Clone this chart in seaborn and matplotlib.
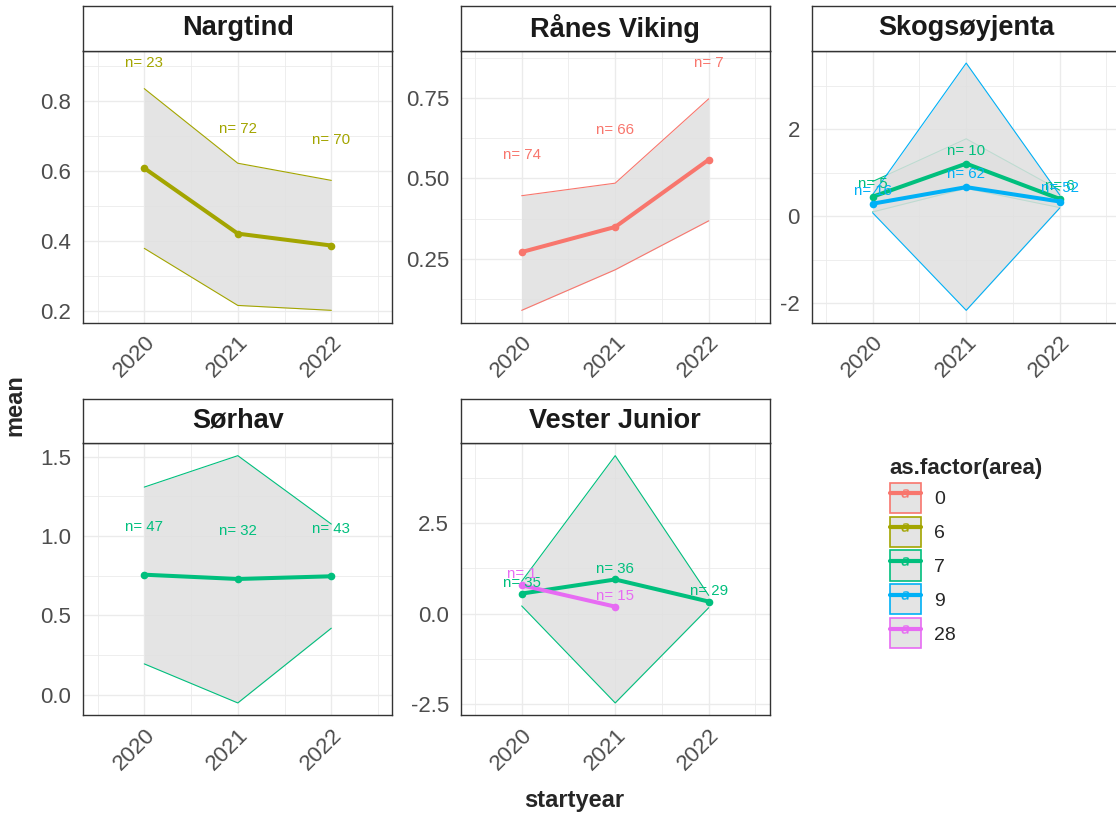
import numpy as np
import pandas as pd
import matplotlib
matplotlib.use("Agg")
import matplotlib.pyplot as plt
from matplotlib.ticker import MultipleLocator
from matplotlib.lines import Line2D
from matplotlib.patches import Patch
from matplotlib.legend_handler import HandlerTuple
import seaborn as sns

# ---------------------------------------------------------------- data
years = [2020, 2021, 2022]
panels = ["Nargtind", "Rånes Viking", "Skogsøyjenta", "Sørhav", "Vester Junior"]
areas = ["0", "6", "7", "9", "28"]
area_colors = ["#F8766D", "#A3A500", "#00BF7D", "#00B0F6", "#E76BF3"]

nargtind_6_mean = [0.609, 0.422, 0.388]
nargtind_6_lower = [0.380, 0.217, 0.203]
nargtind_6_upper = [0.836, 0.623, 0.574]
nargtind_6_n = [23, 72, 70]

ranes_0_mean = [0.271, 0.349, 0.558]
ranes_0_lower = [0.090, 0.216, 0.368]
ranes_0_upper = [0.446, 0.485, 0.747]
ranes_0_n = [74, 66, 7]

skog_7_mean = [0.45, 1.21, 0.40]
skog_7_lower = [0.10, 0.64, 0.20]
skog_7_upper = [0.80, 1.78, 0.60]
skog_7_n = [5, 10, 6]

skog_9_mean = [0.29, 0.67, 0.34]
skog_9_lower = [0.08, -2.16, 0.19]
skog_9_upper = [0.50, 3.52, 0.49]
skog_9_n = [16, 62, 52]

sorhav_7_mean = [0.756, 0.729, 0.746]
sorhav_7_lower = [0.194, -0.052, 0.419]
sorhav_7_upper = [1.308, 1.506, 1.075]
sorhav_7_n = [47, 32, 43]

vester_7_mean = [0.55, 0.94, 0.33]
vester_7_lower = [0.21, -2.47, 0.16]
vester_7_upper = [0.89, 4.36, 0.50]
vester_7_n = [35, 36, 29]

vester_28_years = [2020, 2021]
vester_28_mean = [0.78, 0.19]
vester_28_lower = [np.nan, np.nan]
vester_28_upper = [np.nan, np.nan]
vester_28_n = [1, 15]

y_ticks = {
    "Nargtind": [0.2, 0.4, 0.6, 0.8],
    "Rånes Viking": [0.25, 0.50, 0.75],
    "Skogsøyjenta": [-2, 0, 2],
    "Sørhav": [0.0, 0.5, 1.0, 1.5],
    "Vester Junior": [-2.5, 0.0, 2.5],
}
y_tick_labels = {
    "Nargtind": ["0.2", "0.4", "0.6", "0.8"],
    "Rånes Viking": ["0.25", "0.50", "0.75"],
    "Skogsøyjenta": ["-2", "0", "2"],
    "Sørhav": ["0.0", "0.5", "1.0", "1.5"],
    "Vester Junior": ["-2.5", "0.0", "2.5"],
}

series = [
    ("Nargtind", "6", years, nargtind_6_mean, nargtind_6_lower, nargtind_6_upper, nargtind_6_n),
    ("Rånes Viking", "0", years, ranes_0_mean, ranes_0_lower, ranes_0_upper, ranes_0_n),
    ("Skogsøyjenta", "7", years, skog_7_mean, skog_7_lower, skog_7_upper, skog_7_n),
    ("Skogsøyjenta", "9", years, skog_9_mean, skog_9_lower, skog_9_upper, skog_9_n),
    ("Sørhav", "7", years, sorhav_7_mean, sorhav_7_lower, sorhav_7_upper, sorhav_7_n),
    ("Vester Junior", "7", years, vester_7_mean, vester_7_lower, vester_7_upper, vester_7_n),
    ("Vester Junior", "28", vester_28_years, vester_28_mean, vester_28_lower, vester_28_upper, vester_28_n),
]

rows = []
for panel, area, yrs, mean, lower, upper, n in series:
    for i, yr in enumerate(yrs):
        rows.append(dict(panel=panel, area=area, startyear=yr, mean=mean[i],
                         lower=lower[i], upper=upper[i], n=n[i]))
df = pd.DataFrame(rows)

palette = dict(zip(areas, area_colors))
LABEL_OFFSET = 0.3

# ---------------------------------------------------------------- style
sns.set_style("white")
plt.rcParams["font.family"] = ["Liberation Sans", "DejaVu Sans"]

W, H = 1116, 821
fig = plt.figure(figsize=(W / 100, H / 100), dpi=100)


def frac(x0, y0, x1, y1):
    return [x0 / W, 1 - y1 / H, (x1 - x0) / W, (y1 - y0) / H]


PW, PH, SH = 309.0, 272.0, 44.7
slots = [(83.3, 50.7), (460.7, 50.7), (811.7, 50.7), (83.3, 443.3), (460.7, 443.3)]

BORDER = "#333333"
GRID = "#EBEBEB"
RIBBON = (0.878, 0.878, 0.878, 0.85)

for name, (x0, y0) in zip(panels, slots):
    ax = fig.add_axes(frac(x0, y0, x0 + PW, y0 + PH))
    sub = df[df.panel == name]

    # confidence ribbons with coloured outlines
    for area in areas:
        g = sub[sub.area == area].dropna(subset=["lower", "upper"])
        if len(g) < 2:
            continue
        c = palette[area]
        ax.fill_between(g.startyear, g.lower, g.upper, facecolor=RIBBON, lw=0, zorder=2)
        ax.plot(g.startyear, g.lower, color=c, lw=0.8, zorder=2)
        ax.plot(g.startyear, g.upper, color=c, lw=0.8, zorder=2)

    # mean lines with points
    present = [a for a in areas if a in set(sub.area)]
    sns.lineplot(data=sub, x="startyear", y="mean", hue="area", hue_order=present,
                 palette=palette, estimator=None, sort=True, marker="o",
                 markersize=5.5, markeredgewidth=0, linewidth=2.9,
                 legend=False, ax=ax, zorder=3)

    # sample size labels
    for _, r in sub.iterrows():
        ax.text(r.startyear, r["mean"] + LABEL_OFFSET, f"n= {r.n}",
                color=palette[r.area], ha="center", va="center",
                fontsize=10.8, zorder=4)

    # scales
    vals = np.concatenate([sub["lower"].dropna().values, sub["upper"].dropna().values,
                           sub["mean"].values + LABEL_OFFSET, sub["mean"].values])
    lo, hi = vals.min(), vals.max()
    pad = (hi - lo) * 0.05
    ax.set_ylim(lo - pad, hi + pad)
    ax.set_xlim(2021 - 1.652, 2021 + 1.652)

    ax.set_xticks(years)
    ax.set_xticklabels([str(y) for y in years], rotation=45, ha="right", va="top",
                       rotation_mode="anchor")
    ticks = y_ticks[name]
    ax.set_yticks(ticks)
    ax.set_yticklabels(y_tick_labels[name])
    ax.xaxis.set_minor_locator(MultipleLocator(0.5))
    step = ticks[1] - ticks[0]
    ax.yaxis.set_minor_locator(MultipleLocator(step / 2))
    ax.set_xlabel("")
    ax.set_ylabel("")

    ax.set_axisbelow(True)
    ax.grid(which="major", color=GRID, lw=1.0, zorder=0)
    ax.grid(which="minor", color=GRID, lw=0.6, zorder=0)
    ax.tick_params(which="major", length=3.5, width=0.9, color=BORDER,
                   labelcolor="#4D4D4D", labelsize=16)
    ax.tick_params(axis="y", pad=5)
    ax.tick_params(axis="x", pad=3)
    ax.tick_params(which="minor", length=0)
    for s in ax.spines.values():
        s.set_color(BORDER)
        s.set_linewidth(1.0)
        s.set_zorder(5)

    # facet strip
    sax = fig.add_axes(frac(x0, y0 - SH, x0 + PW, y0))
    sax.set_facecolor("white")
    sax.set_xticks([])
    sax.set_yticks([])
    for s in sax.spines.values():
        s.set_color(BORDER)
        s.set_linewidth(1.0)
    sax.text(0.5, 0.5, name, ha="center", va="center", fontsize=19.5,
             fontweight="bold", color="#1A1A1A", transform=sax.transAxes)

# axis titles
fig.text(15 / W, 1 - 405 / H, "mean", rotation=90, ha="center", va="center",
         fontsize=17, fontweight="bold")
fig.text(574 / W, 1 - 800 / H, "startyear", ha="center", va="center",
         fontsize=17, fontweight="bold")

# legend
handles = []
for area in areas:
    c = palette[area]
    handles.append((Patch(facecolor=RIBBON, edgecolor=c, lw=1.2),
                    Line2D([0], [0], color=c, lw=3),
                    Line2D([0], [0], color=c, ls="none", marker="$a$", ms=6, mew=0.2)))
leg = fig.legend(handles, areas, title="as.factor(area)", loc="upper left",
                 bbox_to_anchor=(880 / W, 1 - 448 / H), frameon=False,
                 handler_map={tuple: HandlerTuple(ndivide=1, pad=0)},
                 fontsize=14, handlelength=1.6, handleheight=2.0,
                 labelspacing=0.2, handletextpad=0.7, borderpad=0,
                 title_fontproperties={"weight": "bold", "size": 16},
                 alignment="left")

fig.savefig("out.png", dpi=100)
